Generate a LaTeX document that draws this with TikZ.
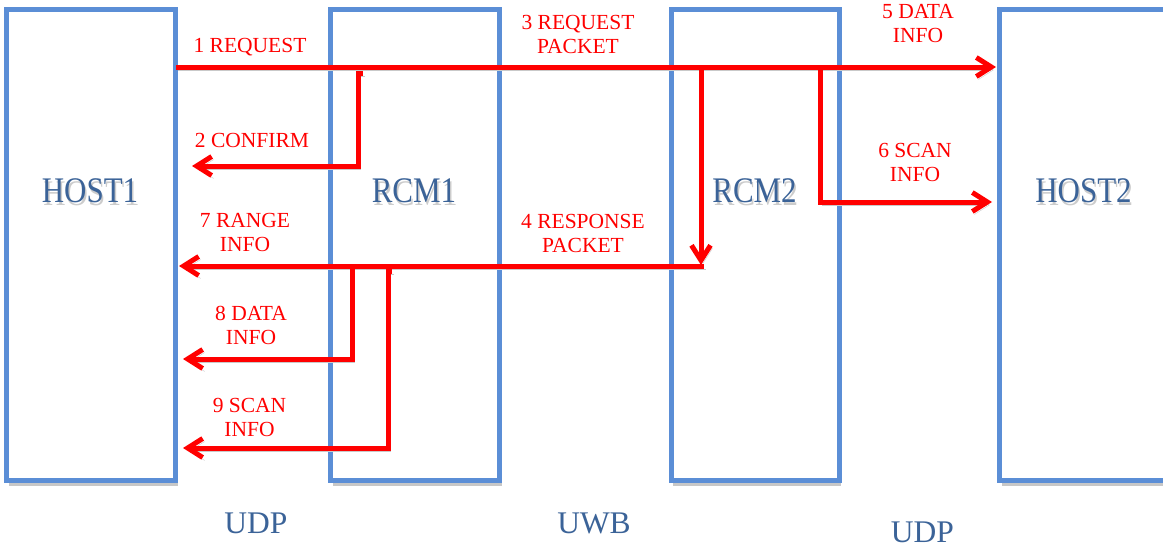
\documentclass[tikz,border=0pt]{standalone}
\usepackage{fontspec}
\setmainfont{Liberation Serif}
\newfontfamily\boxfont[FakeStretch=0.86]{Liberation Serif}
\usetikzlibrary{arrows.meta,shadows}
\definecolor{boxblue}{HTML}{5B8ED6}
\definecolor{txtblue}{HTML}{3B6398}
\definecolor{arrred}{HTML}{FF0000}
\definecolor{shad}{HTML}{C9C9C9}
\newcommand{\shadowtext}[1]{\makebox[0pt][l]{\hspace{1.5pt}\raisebox{-3.5pt}[0pt][0pt]{\textcolor{black!20}{#1}}}#1}
\begin{document}
\begin{tikzpicture}[x=1pt,y=-1pt,
  unitbox/.style={draw=boxblue, line width=5pt, fill=white, inner sep=0pt,
    minimum height=471pt,
    drop shadow={shadow xshift=2pt, shadow yshift=-6pt, fill=black!22, opacity=1}},
  unitlabel/.style={anchor=base, text=txtblue, inner sep=0pt,
    font=\boxfont\fontsize{36}{40}\selectfont},
  linklabel/.style={anchor=base, text=txtblue, inner sep=0pt,
    font=\fontsize{31.5}{36}\selectfont},
  msg/.style={text=arrred, inner sep=0pt, align=center,
    font=\fontsize{21.5}{24}\selectfont},
  flow/.style={draw=arrred, line width=5pt, line join=miter,
    -{Straight Barb[length=15pt,width=19pt]},
    preaction={draw=shad, transform canvas={shift={(2pt,-3pt)}}}}
]
\clip (0,0) rectangle (1163,546);
\fill[white] (0,0) rectangle (1163,546);

% units
\node[unitbox, minimum width=169pt] (host1) at (91,244.5) {};
\node[unitbox, minimum width=169pt] (rcm1) at (415,244.5) {};
\node[unitbox, minimum width=168pt] (rcm2) at (755,244.5) {};
\node[unitbox, minimum width=171pt] (host2) at (1085,244.5) {};

% unit labels
\node[unitlabel] (host1t) at (90,202) {\shadowtext{HOST1}};
\node[unitlabel] (rcm1t) at (414,202) {\shadowtext{RCM1}};
\node[unitlabel] (rcm2t) at (754.5,202) {\shadowtext{RCM2}};
\node[unitlabel] (host2t) at (1083.5,202) {\shadowtext{HOST2}};

% link labels
\node[linklabel] (udp1) at (256,533) {UDP};
\node[linklabel] (uwb) at (594,533) {UWB};
\node[linklabel] (udp2) at (922.5,542.5) {UDP};

% connector points
\coordinate (reqS) at (176,67);
\coordinate (reqE) at (996,67);
\coordinate (cfS) at (363,73);
\coordinate (cfA) at (358,73);
\coordinate (cfB) at (358,166);
\coordinate (cfE) at (192,166);
\coordinate (rsS) at (701,67);
\coordinate (rsE) at (701,265);
\coordinate (rgS) at (703.5,266);
\coordinate (rgE) at (179,266);
\coordinate (scS) at (820,67);
\coordinate (scB) at (820,202);
\coordinate (scE) at (992,202);
\coordinate (dtS) at (352,266);
\coordinate (dtB) at (352,359);
\coordinate (dtE) at (183,359);
\coordinate (snS) at (392,271);
\coordinate (snA) at (388,271);
\coordinate (snB) at (388,448);
\coordinate (snE) at (183,448);

% connectors
\draw[flow] (reqS) -- (reqE);
\draw[flow] (cfS) -- (cfA) -- (cfB) -- (cfE);
\draw[flow] (rgS) -- (rgE);
\draw[flow] (rsS) -- (rsE);
\draw[flow] (scS) -- (scB) -- (scE);
\draw[flow] (dtS) -- (dtB) -- (dtE);
\draw[flow] (snS) -- (snA) -- (snB) -- (snE);

% message labels
\node[msg, anchor=base] (m1) at (250,52) {1 REQUEST};
\node[msg, anchor=base] (m2) at (252,147) {2 CONFIRM};
\node[msg] (m3) at (578,34) {3 REQUEST\\PACKET};
\node[msg] (m4) at (583,233) {4 RESPONSE\\PACKET};
\node[msg] (m5) at (918,24) {5 DATA\\INFO};
\node[msg] (m6) at (915,162) {6 SCAN\\INFO};
\node[msg] (m7) at (245,232) {7 RANGE\\INFO};
\node[msg] (m8) at (251,325.5) {8 DATA\\INFO};
\node[msg] (m9) at (249.5,417) {9 SCAN\\INFO};
\end{tikzpicture}
\end{document}
